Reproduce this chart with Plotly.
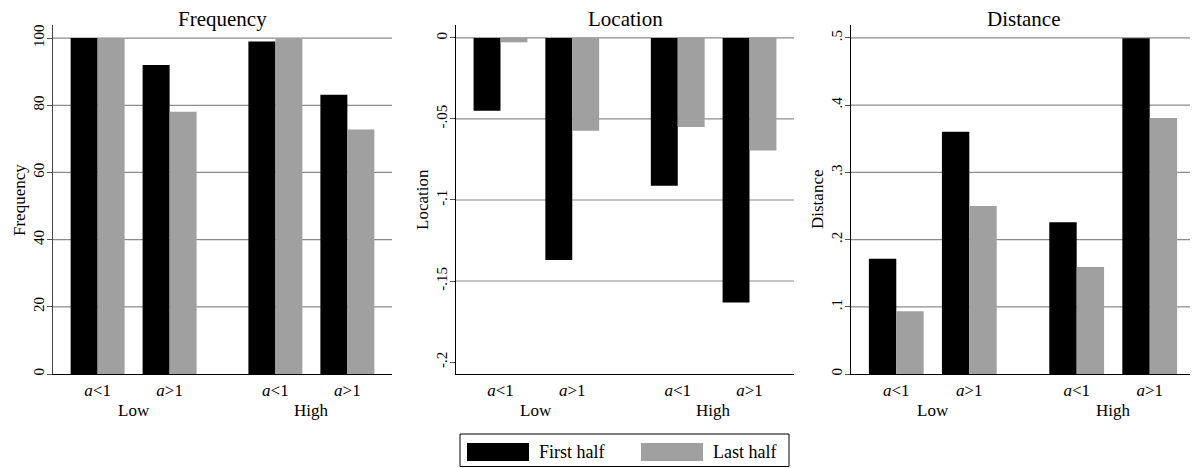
import plotly.graph_objects as go

# ---- data ----
groups = ["Low", "Low", "High", "High"]
conditions = ["a<1", "a>1", "a<1", "a>1"]
tick_labels = ["<i>a</i>&lt;1", "<i>a</i>&gt;1", "<i>a</i>&lt;1", "<i>a</i>&gt;1"]
series_names = ["First half", "Last half"]

frequency_first = [100.0, 92.0, 99.0, 83.1]
frequency_last = [100.0, 78.1, 99.9, 72.8]
location_first = [-0.0449, -0.137, -0.0912, -0.1632]
location_last = [-0.0027, -0.0572, -0.0549, -0.0695]
distance_first = [0.1716, 0.3606, 0.2257, 0.4995]
distance_last = [0.0933, 0.250, 0.1592, 0.381]

panel_titles = ["Frequency", "Location", "Distance"]
y_ticks = [[0, 20, 40, 60, 80, 100],
           [0, -0.05, -0.1, -0.15, -0.2],
           [0, 0.1, 0.2, 0.3, 0.4, 0.5]]
y_ticktext = [["0", "20", "40", "60", "80", "100"],
              ["0", "-.05", "-.1", "-.15", "-.2"],
              ["0", ".1", ".2", ".3", ".4", ".5"]]
y_grid = [[20, 40, 60, 80, 100],
          [0, -0.05, -0.1, -0.15],
          [0.1, 0.2, 0.3, 0.4, 0.5]]
y_ranges = [[0, 103.9], [-0.2074, 0.008], [0, 0.5193]]

# ---- layout constants ----
PAGE_W, PAGE_H = 1198, 468
OFF = 8  # default body margin of the html page
W, H = PAGE_W - OFF, PAGE_H - OFF
FONT = "Liberation Serif, Times New Roman, serif"
BLACK = "#000000"
GRAY = "#a0a0a0"
GRID = "#8c8c8c"
GROUP_GAP = 1.47  # centre distance between adjacent bars of different groups


def px(xp):
    return (xp - OFF) / W


def py(yp):
    return 1 - (yp - OFF) / H


group_order = ["Low", "High"]
cond_order = ["a<1", "a>1"]
xpos = []
for g, c in zip(groups, conditions):
    gi = group_order.index(g)
    ci = cond_order.index(c)
    xpos.append(gi * (len(cond_order) - 1 + GROUP_GAP) + ci)
x_range = [min(xpos) - 0.62, max(xpos) + 0.62]

domains_px = [(53, 392), (456, 794), (851, 1195)]
y_top_px, y_bot_px = 25, 374
ydom = [py(y_bot_px), py(y_top_px)]

data_sets = [(frequency_first, frequency_last),
             (location_first, location_last),
             (distance_first, distance_last)]

fig = go.Figure()
annotations = []
shapes = []

for i, (first, last) in enumerate(data_sets):
    k = "" if i == 0 else str(i + 1)
    xa, ya = "x" + k, "y" + k
    fig.add_trace(go.Bar(x=xpos, y=first, name=series_names[0], marker=dict(color=BLACK, line=dict(width=0)),
                         xaxis=xa, yaxis=ya, offsetgroup="a", showlegend=False))
    fig.add_trace(go.Bar(x=xpos, y=last, name=series_names[1], marker=dict(color=GRAY, line=dict(width=0)),
                         xaxis=xa, yaxis=ya, offsetgroup="b", showlegend=False))
    x0, x1 = domains_px[i]
    fig.update_layout(**{
        "xaxis" + k: dict(domain=[px(x0), px(x1)], range=x_range, anchor=ya, type="linear",
                          tickvals=xpos, ticktext=tick_labels, ticks="", showgrid=False,
                          zeroline=False, showline=True, linecolor="#000000", linewidth=1.3,
                          automargin=False,
                          tickfont=dict(family=FONT, size=17, color="#000"), fixedrange=True),
        "yaxis" + k: dict(domain=ydom, range=y_ranges[i], anchor=xa,
                          tickvals=y_ticks[i], ticktext=y_ticktext[i], tickangle=-90,
                          ticks="outside", ticklen=5, tickcolor="#555", tickwidth=1,
                          ticklabelstandoff=-3,
                          showgrid=False, zeroline=False, automargin=False,
                          showline=True, linecolor="#000000" if i else "#444", linewidth=1.3,
                          tickfont=dict(family=FONT, size=15, color="#000"), fixedrange=True),
    })
    # gridlines
    for gv in y_grid[i]:
        shapes.append(dict(type="line", xref=xa + " domain", yref=ya, x0=0, x1=1, y0=gv, y1=gv,
                           line=dict(color=GRID, width=1.2), layer="below"))
    # group labels under tick labels
    for g in group_order:
        xs = [x for x, gg in zip(xpos, groups) if gg == g]
        annotations.append(dict(x=sum(xs) / len(xs), xref=xa, y=py(410), yref="paper",
                                text=g, showarrow=False, font=dict(family=FONT, size=17, color="#000"),
                                xanchor="center", yanchor="middle"))
    # panel title
    annotations.append(dict(x=px((x0 + x1) / 2), xref="paper", y=py(19), yref="paper",
                            text=panel_titles[i], showarrow=False, borderpad=0,
                            font=dict(family=FONT, size=21, color="#000"),
                            xanchor="center", yanchor="middle"))
    # y axis title
    annotations.append(dict(x=px(x0 - 34), xref="paper", y=py(200), yref="paper",
                            text=panel_titles[i], showarrow=False, textangle=-90,
                            font=dict(family=FONT, size=17, color="#000"),
                            xanchor="center", yanchor="middle"))

# ---- custom legend ----
shapes.append(dict(type="rect", xref="paper", yref="paper", x0=px(460), x1=px(789),
                   y0=py(466.5), y1=py(434), line=dict(color="#000", width=1), fillcolor="white"))
for j, (col, name, sx, tx) in enumerate([(BLACK, series_names[0], 467, 537),
                                         (GRAY, series_names[1], 641, 711)]):
    shapes.append(dict(type="rect", xref="paper", yref="paper", x0=px(sx), x1=px(sx + 62),
                       y0=py(461), y1=py(443), line=dict(width=0), fillcolor=col))
    annotations.append(dict(x=px(tx), xref="paper", y=py(452), yref="paper", text=name,
                            showarrow=False, font=dict(family=FONT, size=18, color="#000"),
                            xanchor="left", yanchor="middle"))

fig.update_layout(
    width=W, height=H, margin=dict(l=0, r=0, t=0, b=0, autoexpand=False),
    paper_bgcolor="white", plot_bgcolor="white",
    barmode="group", bargap=0.25, bargroupgap=0,
    annotations=annotations, shapes=shapes, showlegend=False,
    font=dict(family=FONT, color="#000"),
)

fig.write_html("out.html", config={"displayModeBar": False})
